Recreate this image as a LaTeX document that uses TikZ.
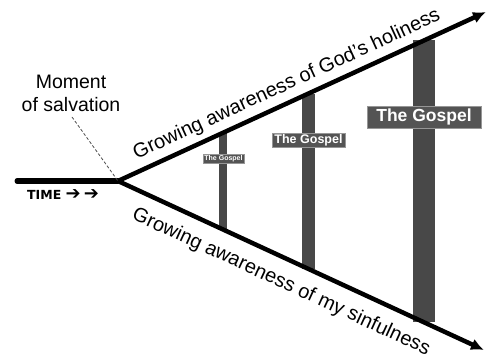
\documentclass[tikz,border=0pt]{standalone}
\usepackage{fontspec}
\setmainfont{Liberation Sans}
\newfontfamily\dejavu{DejaVu Sans}
\usetikzlibrary{arrows.meta,calc}
\definecolor{barcol}{RGB}{72,72,72}
\definecolor{labcol}{RGB}{84,84,84}
\definecolor{labedge}{RGB}{150,150,150}
\tikzset{
  mainline/.style={line width=5pt, line cap=round},
  arrowline/.style={line width=4.5pt, -{Latex[length=13pt,width=12pt]}},
  bar/.style={fill=barcol},
  gospel/.style={fill=labcol, draw=labedge, line width=0.6pt, text=white, font=\bfseries, inner sep=0pt},
  leadline/.style={densely dashed, line width=0.8pt, draw=gray!60!black},
  sidetext/.style={font=\fontsize{20}{22}\selectfont, inner sep=0pt, anchor=base}
}
\begin{document}
\begin{tikzpicture}[x=1pt,y=-1pt]
\useasboundingbox (0,0) rectangle (492,358);
\coordinate (O) at (118,181);
\coordinate (S) at (17,181);
\coordinate (U) at (486,12);
\coordinate (L) at (484,350);
% bars
\coordinate (b1t) at ($(O)!{(223-118)/368}!(U)$);
\coordinate (b1b) at ($(O)!{(223-118)/366}!(L)$);
\coordinate (b2t) at ($(O)!{(308.5-118)/368}!(U)$);
\coordinate (b2b) at ($(O)!{(308.5-118)/366}!(L)$);
\coordinate (b3t) at ($(O)!{(424-118)/368}!(U)$);
\coordinate (b3b) at ($(O)!{(424-118)/366}!(L)$);
\fill[bar] ($(b1t)+(-4,0)$) rectangle ($(b1b)+(4,0)$);
\fill[bar] ($(b2t)+(-6.5,0)$) rectangle ($(b2b)+(6.5,0)$);
\fill[bar] ($(b3t)+(-11,0)$) rectangle ($(b3b)+(11,0)$);
% labels
\node[gospel, minimum width=41pt, minimum height=9pt, font=\fontsize{7}{7}\bfseries\selectfont] (g1) at (223.5,159) {The Gospel};
\node[gospel, minimum width=73pt, minimum height=14pt, font=\fontsize{12.5}{12.5}\bfseries\selectfont] (g2) at (308.5,140) {The Gospel};
\node[gospel, minimum width=114pt, minimum height=22pt, font=\fontsize{17.5}{17.5}\bfseries\selectfont] (g3) at (424,117) {The Gospel};
% lines
\draw[mainline] (S) -- (O);
\draw[arrowline] (O) -- (U);
\draw[arrowline] (O) -- (L);
% texts along lines
\node[sidetext, rotate=24.66] (up) at (289,89.5) {Growing awareness of God's holiness};
\node[sidetext, rotate=-24.79] (lo) at (279,287) {Growing awareness of my sinfulness};
% moment of salvation
\node[font=\fontsize{19.5}{23}\selectfont, align=center, inner sep=0pt] (ms) at (71,93) {Moment\\of salvation};
\coordinate (msend) at (72,117);
\draw[leadline] (msend) -- (O);
% time
\node[font=\dejavu\bfseries\fontsize{12.5}{13}\selectfont, inner sep=0pt, anchor=west] (time) at (27,195) {TIME {\fontsize{18}{18}\selectfont ➔\,➔}};
\end{tikzpicture}
\end{document}
